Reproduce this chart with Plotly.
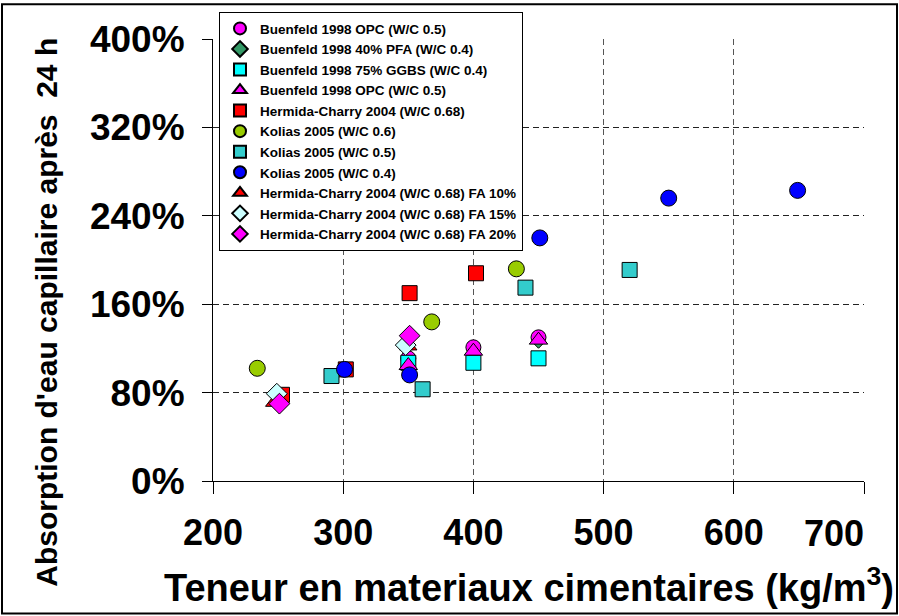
import plotly.graph_objects as go

# ---- data (x: kg/m3, y: fraction) ----
names = [
    "Buenfeld 1998 OPC (W/C 0.5)",
    "Buenfeld 1998 40% PFA (W/C 0.4)",
    "Buenfeld 1998 75% GGBS (W/C 0.4)",
    "Buenfeld 1998 OPC (W/C 0.5)",
    "Hermida-Charry 2004 (W/C 0.68)",
    "Kolias 2005 (W/C 0.6)",
    "Kolias 2005 (W/C 0.5)",
    "Kolias 2005 (W/C 0.4)",
    "Hermida-Charry 2004 (W/C 0.68) FA 10%",
    "Hermida-Charry 2004 (W/C 0.68) FA 15%",
    "Hermida-Charry 2004 (W/C 0.68) FA 20%",
]

buen_opc_c_x = [350, 400, 450]
buen_opc_c_y = [1.11, 1.21, 1.30]
buen_pfa_x = [350, 400, 450]
buen_pfa_y = [1.05, 1.16, 1.26]
buen_ggbs_x = [350, 400, 450]
buen_ggbs_y = [1.07, 1.07, 1.11]
buen_opc_t_x = [350, 400, 450]
buen_opc_t_y = [1.045, 1.175, 1.275]
hc_x = [253, 302, 351, 402]
hc_y = [0.78, 1.01, 1.70, 1.88]
kol06_x = [234, 368, 433]
kol06_y = [1.02, 1.44, 1.92]
kol05_x = [291, 361, 440, 520]
kol05_y = [0.95, 0.83, 1.75, 1.91]
kol04_x = [301, 351, 451, 550, 649]
kol04_y = [1.01, 0.96, 2.20, 2.56, 2.63]
hc10_x = [247, 350]
hc10_y = [0.71, 1.22]
hc15_x = [249, 348]
hc15_y = [0.79, 1.23]
hc20_x = [251, 351]
hc20_y = [0.70, 1.315]

series = [
    (buen_opc_c_x, buen_opc_c_y, "circle", "#FF00FF", 15),
    (buen_pfa_x, buen_pfa_y, "diamond", "#339966", 10),
    (buen_ggbs_x, buen_ggbs_y, "square", "#00FFFF", 15),
    (buen_opc_t_x, buen_opc_t_y, "triangle-up", "#FF00FF", 16),
    (hc_x, hc_y, "square", "#FF0000", 15),
    (kol06_x, kol06_y, "circle", "#99CC00", 16),
    (kol05_x, kol05_y, "square", "#33CCCC", 15),
    (kol04_x, kol04_y, "circle", "#0000FF", 16),
    (hc10_x, hc10_y, "triangle-up", "#FF0000", 15),
    (hc15_x, hc15_y, "diamond", "#CCFFFF", 16),
    (hc20_x, hc20_y, "diamond", "#FF00FF", 16),
]

x_ticks = [200, 300, 400, 500, 600, 700]
y_ticks = [0, 0.8, 1.6, 2.4, 3.2, 4.0]
x_title = "Teneur en materiaux cimentaires (kg/m<sup>3</sup>)"
y_title = "Absorption d'eau capillaire après\u00a0\u00a024 h"

fig = go.Figure()
for name, (xs, ys, sym, col, sz) in zip(names, series):
    fig.add_trace(go.Scatter(
        x=xs, y=ys, mode="markers", name=name,
        marker=dict(symbol=sym, color=col, size=sz,
                    line=dict(color="black", width=1)),
    ))

FONT = "Liberation Sans, Arial, sans-serif"

L, R, T, B = 213, 35, 37, 135
W, H = 899, 616
pw, ph = W - L - R, H - T - B

def px_x(p):
    return (p - L) / pw

def px_y(p):
    return (H - B - p) / ph

GRID_DASH = "6px,4px"

fig.update_layout(
    width=W, height=H,
    margin=dict(l=L, r=R, t=T, b=B),
    paper_bgcolor="white", plot_bgcolor="white",
    font=dict(family=FONT, color="black"),
    showlegend=True,
    legend=dict(
        x=px_x(219), y=px_y(10), xanchor="left", yanchor="top",
        bgcolor="white", bordercolor="black", borderwidth=1,
        font=dict(family=FONT, size=13.5, color="black", weight="bold"),
        itemsizing="constant", tracegroupgap=0,
    ),
    xaxis=dict(
        range=[200, 700], tickvals=x_ticks[:-1],
        ticktext=[str(v) for v in x_ticks[:-1]],
        showgrid=True, gridcolor="#555555", griddash=GRID_DASH, gridwidth=1,
        showline=True, linecolor="black", linewidth=1,
        ticks="outside", ticklen=12, tickcolor="black",
        ticklabelstandoff=8,
        tickfont=dict(family=FONT, size=36, weight="bold"),
        minor=dict(tickvals=[x_ticks[-1]], ticks="outside", ticklen=12,
                   tickcolor="black", showgrid=True, gridcolor="#555555",
                   griddash=GRID_DASH, gridwidth=1),
        zeroline=False,
    ),
    yaxis=dict(
        range=[0, 4.0], tickvals=y_ticks, tickformat=".0%",
        showgrid=True, gridcolor="#222222", griddash=GRID_DASH, gridwidth=1,
        showline=True, linecolor="black", linewidth=1,
        ticks="outside", ticklen=10, tickcolor="black",
        ticklabelstandoff=10,
        tickfont=dict(family=FONT, size=37, weight="bold"),
        zeroline=False,
    ),
    annotations=[
        # last x tick label is pulled inside the chart area (as in the original)
        dict(text=str(x_ticks[-1]), x=x_ticks[-1], xref="x", xanchor="right", xshift=2,
             y=px_y(534), yref="paper", yanchor="middle", showarrow=False,
             font=dict(family=FONT, size=36, weight="bold")),
        dict(text=x_title, x=px_x(529), xref="paper", xanchor="center",
             y=px_y(585), yref="paper", yanchor="middle", showarrow=False,
             font=dict(family=FONT, size=38, weight="bold")),
        dict(text=y_title, textangle=-90, x=px_x(47), xref="paper", xanchor="center",
             y=px_y(312), yref="paper", yanchor="middle", showarrow=False,
             font=dict(family=FONT, size=30, weight="bold")),
    ],
    shapes=[dict(
        type="rect", xref="paper", yref="paper",
        x0=px_x(2), x1=px_x(W - 2),
        y0=px_y(H - 2), y1=px_y(2),
        line=dict(color="black", width=2), fillcolor="rgba(0,0,0,0)", layer="below",
    )],
)

fig.write_html("out.html", config={"displayModeBar": False},
               post_script="document.body.style.margin='0';")
